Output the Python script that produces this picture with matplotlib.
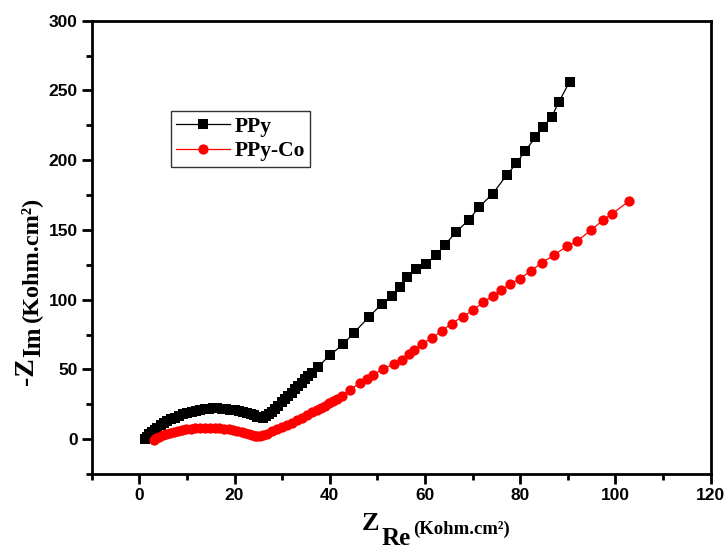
import matplotlib
matplotlib.use("Agg")
import matplotlib.pyplot as plt
from matplotlib.ticker import MultipleLocator

# ---- data ----
ppy_x = [1.2, 1.6, 2.1, 2.6, 3.2, 3.8, 4.5, 5.2, 5.9, 6.7, 7.5, 8.3, 9.2, 10.1,
         11.0, 11.9, 12.8, 13.7, 14.6, 15.5, 16.4, 17.3, 18.2, 19.1, 20.0, 20.9,
         21.8, 22.6, 23.4, 24.1, 24.8, 25.4, 26.0, 26.6, 27.2, 27.8, 28.5, 29.2,
         29.9, 30.6, 31.3, 32.0, 32.7, 33.4, 34.1, 34.8, 35.5, 36.2, 37.6, 40.0,
         42.8, 45.1, 48.2, 51.0, 53.0, 54.7, 56.3, 58.2, 60.2, 62.3, 64.2, 66.6,
         69.3, 71.3, 74.2, 77.2, 79.2, 81.1, 83.2, 84.7, 86.6, 88.1, 90.4]
ppy_y = [0.3, 1.8, 3.4, 5.0, 6.6, 8.2, 9.8, 11.3, 12.8, 14.2, 15.5, 16.7, 17.8, 18.8,
         19.7, 20.4, 21.0, 21.5, 21.8, 22.0, 22.0, 21.9, 21.6, 21.2, 20.7, 20.1,
         19.4, 18.6, 17.8, 17.0, 16.2, 15.6, 15.4, 16.4, 18.0, 19.8, 21.8, 24.0,
         26.3, 28.6, 31.0, 33.4, 35.8, 38.2, 40.5, 42.8, 45.1, 47.6, 52.0, 60.1,
         68.0, 76.3, 87.5, 97.1, 102.3, 109.0, 115.9, 122.1, 125.7, 131.9, 139.3, 148.8,
         157.4, 166.2, 175.8, 189.4, 197.7, 206.8, 216.3, 223.5, 230.8, 241.5, 256.3]

co_x = [3.1, 3.6, 4.2, 4.9, 5.6, 6.4, 7.2, 8.1, 9.0, 9.9, 10.8, 11.8, 12.8, 13.8,
        14.8, 15.8, 16.8, 17.8, 18.8, 19.7, 20.6, 21.5, 22.3, 23.0, 23.6, 24.2,
        24.7, 25.3, 25.9, 26.8, 27.8, 28.9, 29.9, 31.0, 32.0, 33.1, 34.1, 35.2,
        36.2, 37.3, 38.1, 39.0, 39.9, 40.7, 41.6, 42.5, 44.2, 46.3, 47.9, 49.0,
        51.1, 53.4, 55.1, 56.7, 57.7, 59.4, 61.5, 63.5, 65.6, 67.9, 70.1, 72.2,
        74.3, 76.0, 77.8, 79.9, 82.2, 84.5, 87.1, 89.8, 91.9, 94.9, 97.5, 99.3, 102.8]
co_y = [-0.3, 0.8, 1.8, 2.8, 3.7, 4.6, 5.4, 6.1, 6.7, 7.2, 7.6, 7.9, 8.1, 8.2,
        8.2, 8.1, 7.9, 7.6, 7.2, 6.6, 5.9, 5.1, 4.3, 3.5, 2.8, 2.2,
        1.9, 2.1, 2.8, 4.0, 5.5, 7.0, 8.8, 10.2, 11.9, 13.8, 15.5, 17.2,
        19.1, 20.7, 22.2, 23.8, 25.8, 27.4, 29.1, 31.0, 35.3, 40.1, 42.9, 45.8,
        50.1, 53.7, 57.0, 61.0, 64.2, 68.3, 72.6, 77.4, 82.9, 87.8, 92.3, 98.2,
        102.5, 106.8, 110.9, 115.0, 120.4, 126.4, 131.9, 138.3, 141.9, 149.8, 157.3, 161.5, 170.5]

series_labels = ["PPy", "PPy-Co"]
x_ticks = [0, 20, 40, 60, 80, 100, 120]
y_ticks = [0, 50, 100, 150, 200, 250, 300]

# ---- figure ----
fig = plt.figure(figsize=(7.28, 5.54), dpi=100)
ax = fig.add_axes([0.126, 0.1444, 0.850, 0.8182])

ax.plot(ppy_x, ppy_y, color="black", lw=0.9, marker="s", ms=7.2,
        markeredgewidth=0, label=series_labels[0])
ax.plot(co_x, co_y, color="red", lw=0.9, marker="o", ms=7.4,
        markeredgewidth=0, label=series_labels[1])

ax.set_xlim(-10, 120)
ax.set_ylim(-25, 300)
ax.set_xticks(x_ticks)
ax.set_yticks(y_ticks)
ax.xaxis.set_minor_locator(MultipleLocator(10))
ax.yaxis.set_minor_locator(MultipleLocator(25))

for s in ax.spines.values():
    s.set_linewidth(2.0)
ax.tick_params(which="major", direction="out", length=7, width=2.0, pad=3,
               labelsize=12.5)
ax.tick_params(which="minor", direction="out", length=4, width=2.0)
for lab in ax.get_xticklabels() + ax.get_yticklabels():
    lab.set_fontfamily("Liberation Sans")
    lab.set_fontweight("bold")

leg = ax.legend(loc="upper left", bbox_to_anchor=(0.128, 0.80),
                frameon=True, fancybox=False, edgecolor="black",
                prop={"family": "Liberation Serif", "weight": "bold", "size": 15.5},
                handlelength=2.5, handletextpad=0.2, borderpad=0.25,
                labelspacing=0.2, borderaxespad=0)
leg.get_frame().set_linewidth(1.0)

# axis labels (Times-like bold, with large subscripts)
serif = dict(family="Liberation Serif", weight="bold", color="black")
fig.text(362 / 728, 1 - 530 / 554, "Z", fontsize=19, ha="left", va="baseline", **serif)
fig.text(382 / 728, 1 - 545 / 554, "Re", fontsize=18, ha="left", va="baseline", **serif)
fig.text(413 / 728, 1 - 534 / 554, "(Kohm.cm\u00b2)", fontsize=13.5, ha="left", va="baseline", **serif)

fig.text(26 / 728, 1 - 385 / 554, "-Z", fontsize=20, rotation=90, ha="center", va="bottom", **serif)
fig.text(34 / 728, 1 - 357 / 554, "Im", fontsize=18, rotation=90, ha="center", va="bottom", **serif)
fig.text(31 / 728, 1 - 322 / 554, "(Kohm.cm\u00b2)", fontsize=17.5, rotation=90, ha="center", va="bottom", **serif)

fig.savefig("out.png", dpi=100)
